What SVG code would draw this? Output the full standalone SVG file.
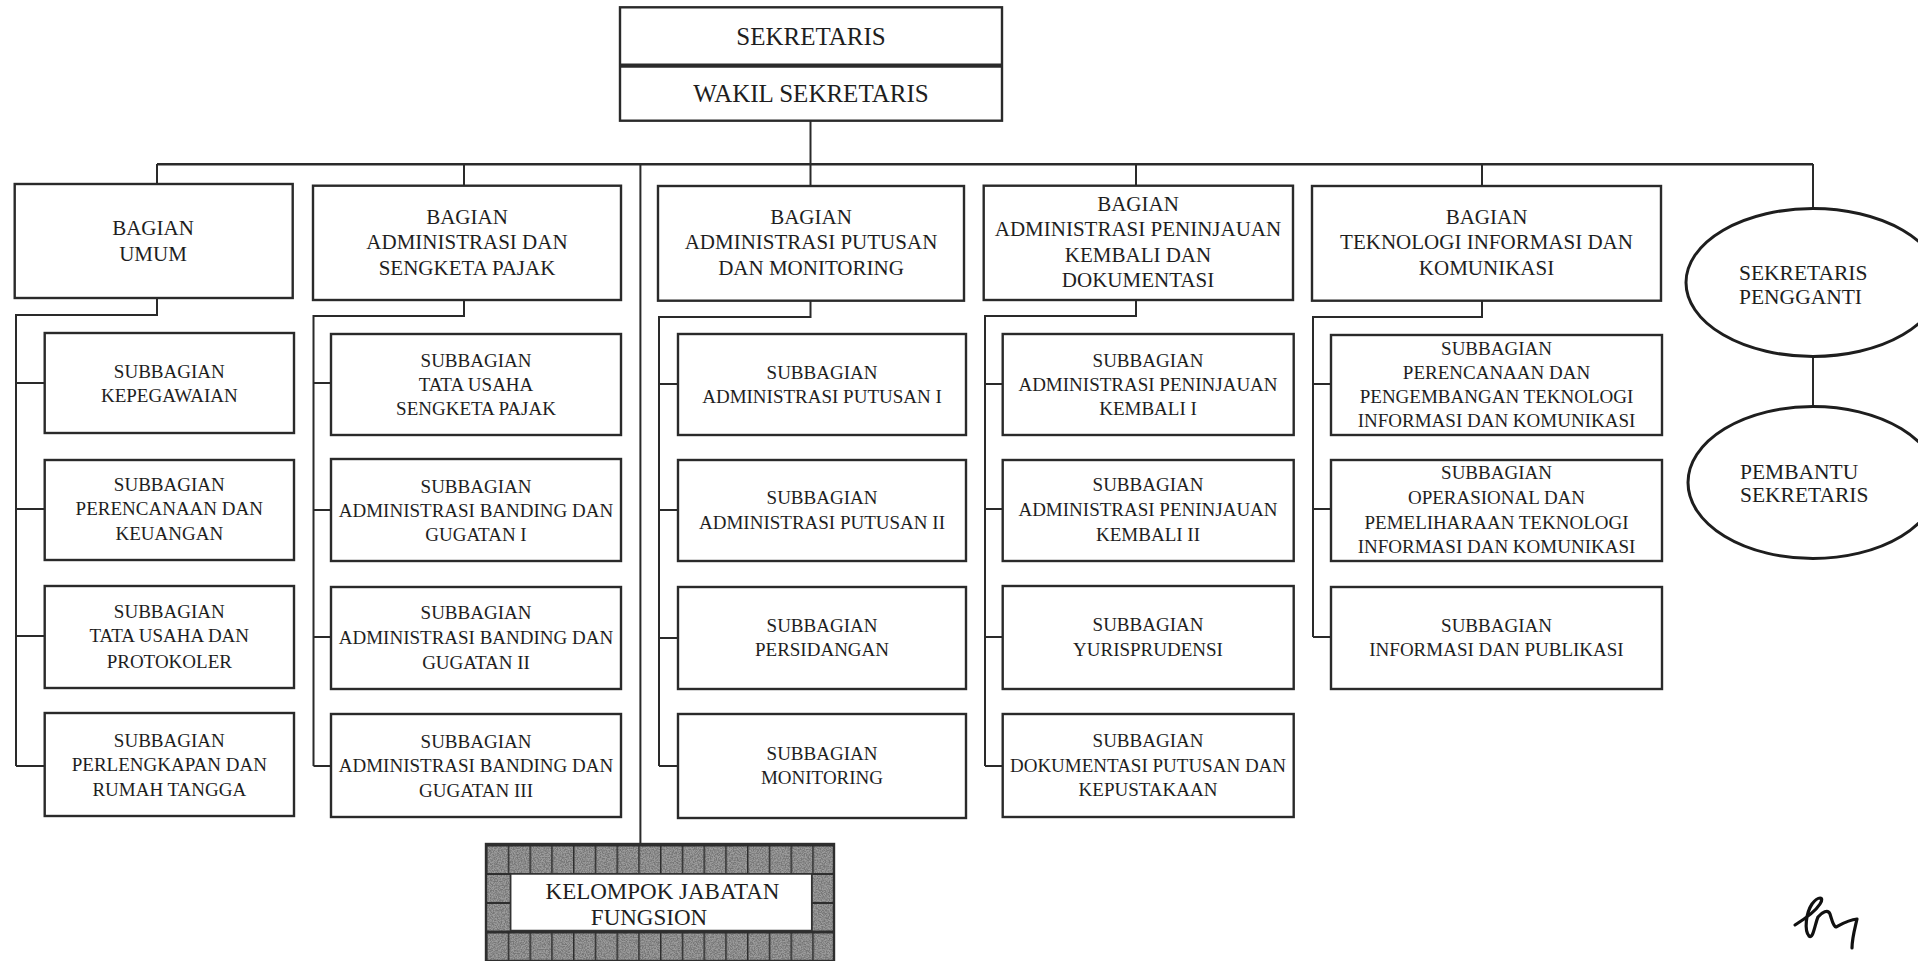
<svg xmlns="http://www.w3.org/2000/svg" width="1918" height="961" viewBox="0 0 1918 961">
<style>
.box{fill:#fff;stroke:#2a2a2a;stroke-width:2.4}
.con{fill:none;stroke:#2a2a2a;stroke-width:2}
.t{font-family:"Liberation Serif","Times New Roman",serif;fill:#1e1e1e;text-anchor:middle}
.b{font-size:21px}
.s{font-size:19px}
.e{font-size:21.5px;text-anchor:start}
.grid{fill:none;stroke:#2e2e2e;stroke-width:1.8}
</style>
<defs>
<filter id="grain" x="0" y="0" width="1" height="1" filterUnits="objectBoundingBox">
<feTurbulence type="fractalNoise" baseFrequency="0.75" numOctaves="2" seed="7" result="n"/>
<feColorMatrix in="n" type="matrix" values="0 0 0 0 0.18  0 0 0 0 0.18  0 0 0 0 0.18  3.2 0 0 0 -1.15"/>
</filter>
<pattern id="tileGrid" x="486" y="845" width="21.75" height="29" patternUnits="userSpaceOnUse">
<path d="M0,0H21.75M0,0V29" stroke="#2e2e2e" stroke-width="3"/>
</pattern>
</defs>
<rect width="1918" height="961" fill="#fff"/>
<g id="connectors">
<path class="con" d="M810.5,121V186"/>
<path class="con" d="M157,164.3H1813" style="stroke-width:2.4"/>
<path class="con" d="M157,164V184M464,164V186M1136,164V186M1482,164V186M1813,164V208"/>
<path class="con" d="M640.4,164V844"/>
<path class="con" d="M1813,357V407"/>
<path class="con" d="M157,298V315H16V766M16,383H44.7M16,509H44.7M16,636H44.7M16,766H44.7"/>
<path class="con" d="M464,300V316H313.5V766M313.5,383H331M313.5,510H331M313.5,637H331M313.5,766H331"/>
<path class="con" d="M810.5,300.7V317H659V766M659,384H678M659,510H678M659,638H678M659,766H678"/>
<path class="con" d="M1136,300V316H985V766M985,384H1002.7M985,509H1002.7M985,637H1002.7M985,766H1002.7"/>
<path class="con" d="M1482,300.7V317H1313V637M1313,384H1331M1313,509H1331M1313,637H1331"/>
</g>
<g id="sekretaris">
<rect class="box" x="620" y="7.3" width="382" height="113.4"/>
<path d="M620,65.7H1002" stroke="#2a2a2a" stroke-width="4.2"/>
<text class="t" x="811" y="45" font-size="25">SEKRETARIS</text>
<text class="t" x="811" y="101.6" font-size="25">WAKIL SEKRETARIS</text>
</g>
<g id="bagian-umum">
<rect class="box" x="14.7" y="184" width="278" height="114"/>
<text class="t b" x="153" y="235.3">BAGIAN</text>
<text class="t b" x="153" y="261.3">UMUM</text>
</g>
<g id="bagian-sengketa">
<rect class="box" x="313" y="185.7" width="308" height="114.3"/>
<text class="t b" x="467" y="224">BAGIAN</text>
<text class="t b" x="467" y="249.3">ADMINISTRASI DAN</text>
<text class="t b" x="467" y="274.7">SENGKETA PAJAK</text>
</g>
<g id="bagian-putusan">
<rect class="box" x="658" y="186" width="306" height="114.7"/>
<text class="t b" x="811" y="224">BAGIAN</text>
<text class="t b" x="811" y="249.3">ADMINISTRASI PUTUSAN</text>
<text class="t b" x="811" y="274.7">DAN MONITORING</text>
</g>
<g id="bagian-pk">
<rect class="box" x="983.7" y="185.7" width="309.3" height="114.3"/>
<text class="t b" x="1138" y="211.3">BAGIAN</text>
<text class="t b" x="1138" y="236.3">ADMINISTRASI PENINJAUAN</text>
<text class="t b" x="1138" y="262">KEMBALI DAN</text>
<text class="t b" x="1138" y="287">DOKUMENTASI</text>
</g>
<g id="bagian-ti">
<rect class="box" x="1312" y="186" width="349" height="114.7"/>
<text class="t b" x="1486.5" y="224">BAGIAN</text>
<text class="t b" x="1486.5" y="249.3">TEKNOLOGI INFORMASI DAN</text>
<text class="t b" x="1486.5" y="275">KOMUNIKASI</text>
</g>
<g id="sekretaris-pengganti">
<ellipse cx="1813" cy="282.5" rx="127" ry="74" fill="#fff" stroke="#1e1e1e" stroke-width="3"/>
<text class="t e" x="1739" y="280.4">SEKRETARIS</text>
<text class="t e" x="1739" y="303.8">PENGGANTI</text>
</g>
<g id="pembantu-sekretaris">
<ellipse cx="1813" cy="482.5" rx="125" ry="76" fill="#fff" stroke="#1e1e1e" stroke-width="3"/>
<text class="t e" x="1740" y="478.8">PEMBANTU</text>
<text class="t e" x="1740" y="502.1">SEKRETARIS</text>
</g>
<g id="sub-kepegawaian">
<rect class="box" x="44.7" y="333" width="249.3" height="100"/>
<text class="t s" x="169.3" y="378">SUBBAGIAN</text>
<text class="t s" x="169.3" y="402">KEPEGAWAIAN</text>
</g>
<g id="sub-perencanaan-keuangan">
<rect class="box" x="44.7" y="460" width="249.3" height="100"/>
<text class="t s" x="169.3" y="491">SUBBAGIAN</text>
<text class="t s" x="169.3" y="515.3">PERENCANAAN DAN</text>
<text class="t s" x="169.3" y="539.6">KEUANGAN</text>
</g>
<g id="sub-tu-protokoler">
<rect class="box" x="44.7" y="586" width="249.3" height="102"/>
<text class="t s" x="169.3" y="618">SUBBAGIAN</text>
<text class="t s" x="169.3" y="642.3">TATA USAHA DAN</text>
<text class="t s" x="169.3" y="668">PROTOKOLER</text>
</g>
<g id="sub-perlengkapan">
<rect class="box" x="44.7" y="713" width="249.3" height="103"/>
<text class="t s" x="169.3" y="747">SUBBAGIAN</text>
<text class="t s" x="169.3" y="771.3">PERLENGKAPAN DAN</text>
<text class="t s" x="169.3" y="795.6">RUMAH TANGGA</text>
</g>
<g id="sub-tu-sengketa">
<rect class="box" x="331" y="334" width="290" height="101"/>
<text class="t s" x="476" y="367">SUBBAGIAN</text>
<text class="t s" x="476" y="391.3">TATA USAHA</text>
<text class="t s" x="476" y="415.3">SENGKETA PAJAK</text>
</g>
<g id="sub-banding-1">
<rect class="box" x="331" y="459" width="290" height="102"/>
<text class="t s" x="476" y="492.6">SUBBAGIAN</text>
<text class="t s" x="476" y="517">ADMINISTRASI BANDING DAN</text>
<text class="t s" x="476" y="541.3">GUGATAN I</text>
</g>
<g id="sub-banding-2">
<rect class="box" x="331" y="587" width="290" height="102"/>
<text class="t s" x="476" y="619">SUBBAGIAN</text>
<text class="t s" x="476" y="643.6">ADMINISTRASI BANDING DAN</text>
<text class="t s" x="476" y="669">GUGATAN II</text>
</g>
<g id="sub-banding-3">
<rect class="box" x="331" y="714" width="290" height="103"/>
<text class="t s" x="476" y="748">SUBBAGIAN</text>
<text class="t s" x="476" y="772">ADMINISTRASI BANDING DAN</text>
<text class="t s" x="476" y="797">GUGATAN III</text>
</g>
<g id="sub-putusan-1">
<rect class="box" x="678" y="334" width="288" height="101"/>
<text class="t s" x="822" y="379">SUBBAGIAN</text>
<text class="t s" x="822" y="403">ADMINISTRASI PUTUSAN I</text>
</g>
<g id="sub-putusan-2">
<rect class="box" x="678" y="460" width="288" height="101"/>
<text class="t s" x="822" y="503.6">SUBBAGIAN</text>
<text class="t s" x="822" y="528.6">ADMINISTRASI PUTUSAN II</text>
</g>
<g id="sub-persidangan">
<rect class="box" x="678" y="587" width="288" height="102"/>
<text class="t s" x="822" y="632">SUBBAGIAN</text>
<text class="t s" x="822" y="655.6">PERSIDANGAN</text>
</g>
<g id="sub-monitoring">
<rect class="box" x="678" y="714" width="288" height="104"/>
<text class="t s" x="822" y="759.6">SUBBAGIAN</text>
<text class="t s" x="822" y="783.6">MONITORING</text>
</g>
<g id="sub-pk-1">
<rect class="box" x="1002.7" y="334" width="291" height="101"/>
<text class="t s" x="1148" y="367">SUBBAGIAN</text>
<text class="t s" x="1148" y="391.3">ADMINISTRASI PENINJAUAN</text>
<text class="t s" x="1148" y="415.3">KEMBALI I</text>
</g>
<g id="sub-pk-2">
<rect class="box" x="1002.7" y="460" width="291" height="101"/>
<text class="t s" x="1148" y="491.3">SUBBAGIAN</text>
<text class="t s" x="1148" y="515.6">ADMINISTRASI PENINJAUAN</text>
<text class="t s" x="1148" y="540.6">KEMBALI II</text>
</g>
<g id="sub-yurisprudensi">
<rect class="box" x="1002.7" y="586" width="291" height="103"/>
<text class="t s" x="1148" y="631.3">SUBBAGIAN</text>
<text class="t s" x="1148" y="655.6">YURISPRUDENSI</text>
</g>
<g id="sub-dokumentasi">
<rect class="box" x="1002.7" y="714" width="291" height="103"/>
<text class="t s" x="1148" y="747">SUBBAGIAN</text>
<text class="t s" x="1148" y="772">DOKUMENTASI PUTUSAN DAN</text>
<text class="t s" x="1148" y="795.6">KEPUSTAKAAN</text>
</g>
<g id="sub-ti-1">
<rect class="box" x="1331" y="335" width="331" height="100"/>
<text class="t s" x="1496.5" y="354.6">SUBBAGIAN</text>
<text class="t s" x="1496.5" y="379">PERENCANAAN DAN</text>
<text class="t s" x="1496.5" y="403">PENGEMBANGAN TEKNOLOGI</text>
<text class="t s" x="1496.5" y="427">INFORMASI DAN KOMUNIKASI</text>
</g>
<g id="sub-ti-2">
<rect class="box" x="1331" y="460" width="331" height="101"/>
<text class="t s" x="1496.5" y="479">SUBBAGIAN</text>
<text class="t s" x="1496.5" y="503.6">OPERASIONAL DAN</text>
<text class="t s" x="1496.5" y="528.6">PEMELIHARAAN TEKNOLOGI</text>
<text class="t s" x="1496.5" y="553">INFORMASI DAN KOMUNIKASI</text>
</g>
<g id="sub-informasi-publikasi">
<rect class="box" x="1331" y="587" width="331" height="102"/>
<text class="t s" x="1496.5" y="632">SUBBAGIAN</text>
<text class="t s" x="1496.5" y="655.6">INFORMASI DAN PUBLIKASI</text>
</g>
<g id="kelompok-jabatan-fungsion">
<rect x="486" y="844" width="348" height="117" fill="#9c9c9c"/>
<rect x="486" y="844" width="348" height="117" fill="#000" filter="url(#grain)"/>
<rect x="486" y="845" width="348" height="29" fill="url(#tileGrid)"/>
<rect x="486" y="932" width="348" height="29" fill="url(#tileGrid)"/>
<path class="grid" d="M486,874V932M510.7,874V932M811.7,874V932M834,874V932M486,903H510.7M811.7,903H834M486,931.5H834M486,874H834"/>
<rect x="486" y="844" width="348" height="117" fill="none" stroke="#2e2e2e" stroke-width="2.4"/>
<rect x="510.7" y="874" width="301" height="56.5" fill="#fff" stroke="#333" stroke-width="1.5"/>
<text class="t" x="662.5" y="898.6" font-size="23">KELOMPOK JABATAN</text>
<text class="t" x="649" y="924.9" font-size="23">FUNGSION</text>
</g>
<path d="M1795,925 C1803,920 1815,912 1820,904 C1825,896 1818,896 1812,904 C1806,913 1804,930 1809,936 C1813,940 1815,924 1818,917 C1822,912 1828,909 1830,914 C1832,920 1833,926 1836,927 C1840,925 1848,920 1857,919 C1855,928 1852,938 1852,948" fill="none" stroke="#111" stroke-width="3.2" stroke-linecap="round" stroke-linejoin="round"/>
</svg>
